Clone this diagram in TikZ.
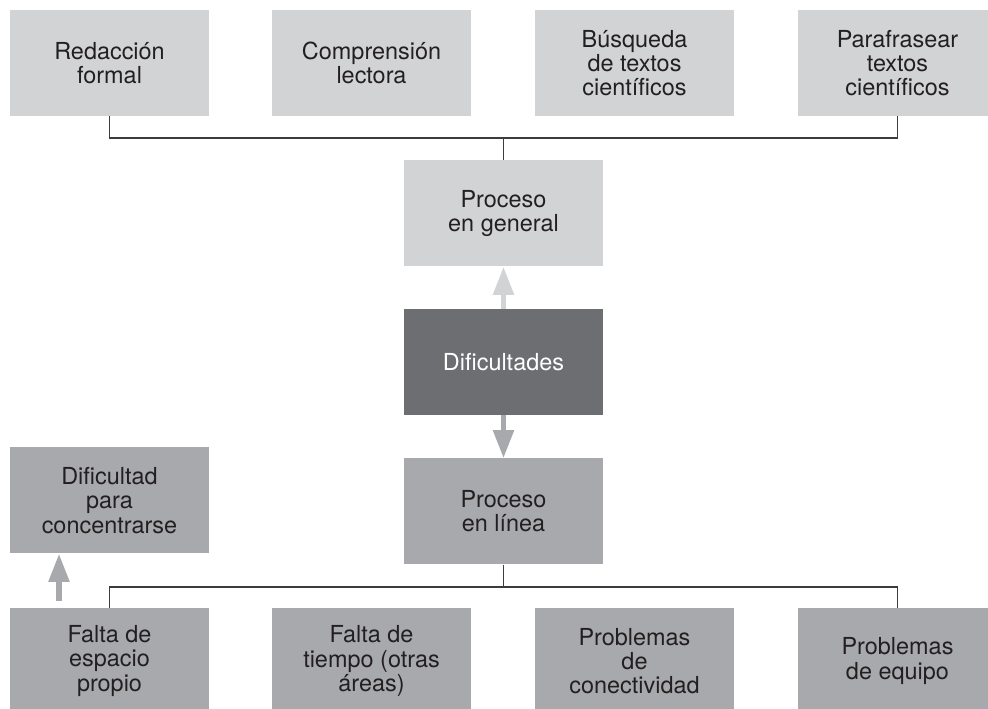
\documentclass[tikz,border=0pt]{standalone}
\usepackage{fontspec}
\setmainfont{TeX Gyre Heros}
\usetikzlibrary{arrows.meta}

\definecolor{boxlight}{HTML}{D1D3D4}
\definecolor{boxmid}{HTML}{A7A9AC}
\definecolor{boxdark}{HTML}{6D6E71}
\definecolor{inktext}{HTML}{231F20}
\definecolor{inkline}{HTML}{3C3C3C}

\begin{document}
\begin{tikzpicture}[
    x=0.03cm,
    y=0.03cm,
    every node/.style={font=\fontsize{20pt}{20.6pt}\selectfont, text=inktext, align=center},
    box/.style={minimum width=5.97cm, minimum height=3.18cm, inner sep=0pt},
    upper/.style={box, fill=boxlight},
    lower/.style={box, fill=boxmid},
    core/.style={box, fill=boxdark, text=white},
    tree/.style={draw=inkline, line width=1.1pt},
    fat/.style={line width=4.7pt, -{Triangle[width=17pt, length=24pt]}}
  ]
    \useasboundingbox (0,0) rectangle (988,709);
    \clip (0,0) rectangle (988,709);

    % top row
    \node[upper] (redac) at (109.5,646) {Redacción\\formal};
    \node[upper] (compr) at (371.5,646) {Comprensión\\lectora};
    \node[upper] (busq) at (634.5,646) {Búsqueda\\de textos\\científicos};
    \node[upper] (paraf) at (897.5,646) {Parafrasear\\textos\\científicos};

    % centre column
    \node[upper] (general) at (503.5,495.5) {Proceso\\en general};
    \node[core] (dific) at (503.5,347) {Dificultades};
    \node[lower] (linea) at (503.5,197.5) {Proceso\\en línea};
    \node[lower] (concen) at (109.5,208.5) {Dificultad\\para\\concentrarse};

    % bottom row
    \node[lower] (espacio) at (109.5,48) {Falta de\\espacio\\propio};
    \node[lower] (tiempo) at (371.5,48) {Falta de\\tiempo (otras\\áreas)};
    \node[lower] (conect) at (634.5,48) {Problemas\\de\\conectividad};
    \node[lower] (equipo) at (897.5,48) {Problemas\\de equipo};

    \coordinate (topbus) at (503.5,571);
    \coordinate (lowbus) at (503.5,122);

    \draw[tree] (redac.south) |- (topbus) -| (paraf.south);
    \draw[tree] (topbus) -- (general.north);
    \draw[tree] (linea.south) -- (lowbus);
    \draw[tree] (espacio.north) |- (lowbus) -| (equipo.north);

    \draw[fat, draw=boxlight, fill=boxlight] (dific.north) -- (general.south);
    \draw[fat, draw=boxmid, fill=boxmid] (dific.south) -- (linea.north);
    \draw[fat, draw=boxmid, fill=boxmid, shorten <=6] ([xshift=-50.5*0.03cm]espacio.north) -- ([xshift=-50.5*0.03cm]concen.south);
  \end{tikzpicture}
\end{document}
